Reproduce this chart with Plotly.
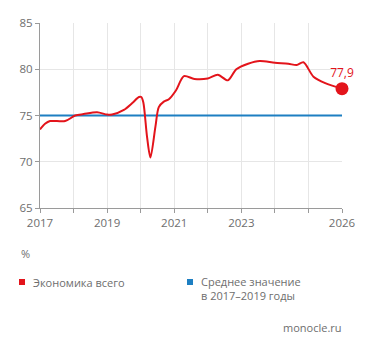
import plotly.graph_objects as go

years = [2017.0, 2017.15, 2017.3, 2017.75, 2018.05, 2018.3, 2018.7, 2019.0, 2019.15,
         2019.5, 2019.75, 2019.95, 2020.02, 2020.08, 2020.19, 2020.29, 2020.44, 2020.54,
         2020.69, 2020.84, 2021.05, 2021.29, 2021.6, 2022.0, 2022.3, 2022.6, 2022.85,
         2023.2, 2023.55, 2024.0, 2024.4, 2024.65, 2024.85, 2025.15, 2025.5, 2026.0]
economy = [73.5, 74.1, 74.4, 74.4, 75.0, 75.15, 75.35, 75.1, 75.1,
           75.6, 76.35, 77.0, 77.0, 76.4, 72.7, 70.45, 73.8, 75.9,
           76.5, 76.75, 77.7, 79.25, 78.95, 79.0, 79.4, 78.8, 80.0,
           80.6, 80.9, 80.7, 80.6, 80.45, 80.75, 79.2, 78.5, 77.9]
avg_x = [2017, 2026]
avg_y = [75, 75]
last_label = "77,9"

tick_years = list(range(2017, 2027))
tick_text = ["2017", "", "2019", "", "2021", "", "2023", "", "", "2026"]
y_ticks = [65, 70, 75, 80, 85]

RED = "#e3141b"
BLUE = "#1d7fc2"
GRAY = "#6e6e6e"
FONT = "Open Sans"

fig = go.Figure()
fig.add_trace(go.Scatter(x=avg_x, y=avg_y, mode="lines",
                         line=dict(color=BLUE, width=2), hoverinfo="skip"))
fig.add_trace(go.Scatter(x=years, y=economy, mode="lines",
                         line=dict(color=RED, width=2, shape="spline", smoothing=0.8),
                         hoverinfo="skip"))
fig.add_trace(go.Scatter(x=[years[-1]], y=[economy[-1]], mode="markers+text",
                         marker=dict(color=RED, size=13),
                         text=[last_label], textposition="top center",
                         textfont=dict(color=RED, size=12, family=FONT),
                         cliponaxis=False, hoverinfo="skip"))

W, H = 371, 349
L, R, T, B = 40, 29, 23, 141
PW, PH = W - L - R, H - T - B
fig.update_layout(
    width=W, height=H,
    margin=dict(l=L, r=R, t=T, b=B),
    paper_bgcolor="white", plot_bgcolor="white",
    showlegend=False,
    font=dict(family=FONT, color=GRAY, size=12),
    xaxis=dict(range=[2017, 2026], tickvals=tick_years, ticktext=tick_text,
               showgrid=True, gridcolor="#e6e6e6", gridwidth=1,
               showline=True, linecolor="#9a9a9a", linewidth=1,
               ticks="outside", ticklen=4, tickcolor="#9a9a9a",
               zeroline=False, tickfont=dict(size=11.5, color=GRAY),
               fixedrange=True),
    yaxis=dict(range=[65, 85], tickvals=y_ticks,
               showgrid=True, gridcolor="#e6e6e6", gridwidth=1,
               showline=True, linecolor="#9a9a9a", linewidth=1,
               ticks="outside", ticklen=4, tickcolor="#9a9a9a",
               zeroline=False, tickfont=dict(size=11.5, color=GRAY)),
)


def px(x):
    return (x - L) / PW


def py(y):
    return (H - B - y) / PH


ann = dict(xref="paper", yref="paper", showarrow=False,
           font=dict(family=FONT, size=11, color=GRAY))
fig.add_annotation(text="%", x=px(19), y=py(253), xanchor="left", yanchor="middle", **ann)
fig.add_annotation(text="Экономика всего", x=px(31), y=py(282), xanchor="left", yanchor="middle", **ann)
fig.add_annotation(text="Среднее значение<br>в 2017–2019 годы", x=px(199), y=py(288),
                   xanchor="left", yanchor="middle", align="left", **ann)
fig.add_annotation(text="monocle.ru", x=px(344), y=py(327), xanchor="right", yanchor="middle", **ann)

fig.add_shape(type="rect", xref="paper", yref="paper", x0=px(19), x1=px(25), y0=py(285), y1=py(279),
              fillcolor=RED, line=dict(width=0))
fig.add_shape(type="rect", xref="paper", yref="paper", x0=px(187), x1=px(193), y0=py(285), y1=py(279),
              fillcolor=BLUE, line=dict(width=0))

fig.write_html("out.html")
